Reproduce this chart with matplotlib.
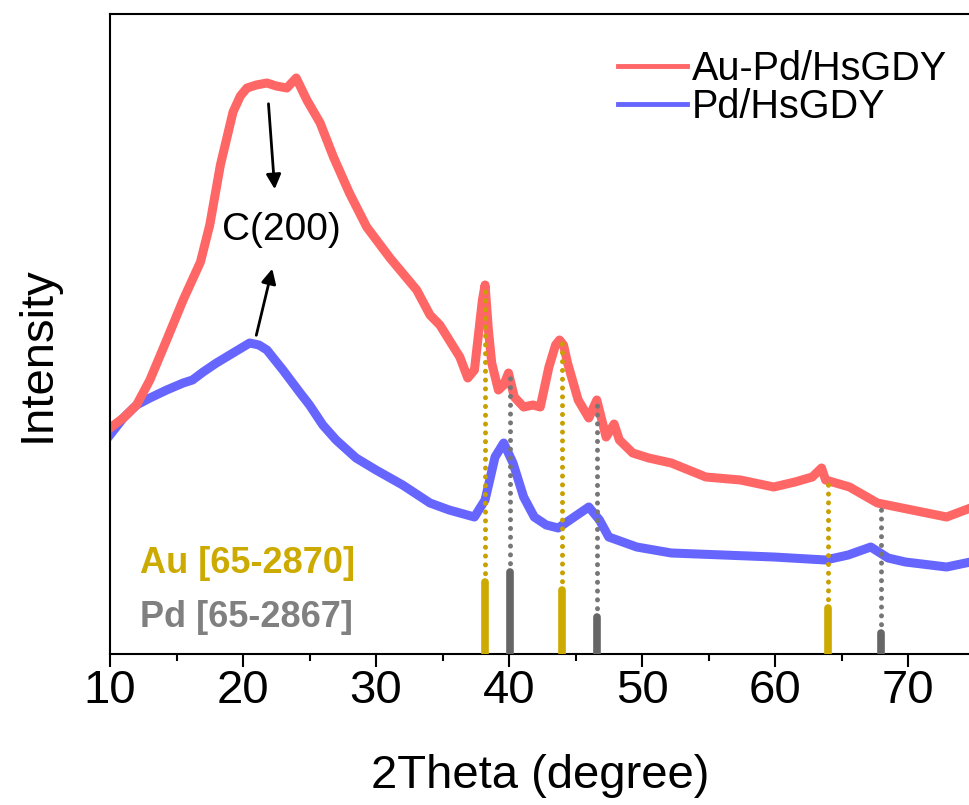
import numpy as np
import matplotlib
matplotlib.use("Agg")
import matplotlib.pyplot as plt
from matplotlib.ticker import MultipleLocator

plt.rcParams['font.family'] = ['Liberation Sans', 'DejaVu Sans']

# XRD patterns (2theta in degrees, intensity in arbitrary units)
aupd_x = [10.0, 11.0, 12.0, 13.0, 14.26, 15.5, 16.8, 17.5, 18.3, 19.25, 19.8, 20.3, 21.0,
          21.8, 22.5, 23.3, 24.0, 24.8, 25.8, 26.8, 28.0, 29.3, 31.05, 33.06, 34.06,
          34.8, 36.3, 36.9, 37.4, 37.7, 38.0, 38.2, 38.45, 38.7, 39.2, 39.6, 39.96,
          40.4, 41.1, 41.8, 42.35, 43.0, 43.5, 43.8, 44.1, 44.4, 45.2, 46.0, 46.6,
          47.3, 47.9, 48.3, 49.3, 50.5, 52.2, 54.8, 57.4, 59.9, 61.5, 62.8, 63.5, 63.8,
          65.6, 67.7, 70.3, 72.9, 74.7]
aupd_y = [226, 236, 249, 274, 314, 354, 392, 429, 489, 542, 558, 566, 569,
          571, 568, 566, 576, 554, 531, 497, 461, 427, 396, 364, 339,
          329, 297, 276, 284, 319, 354, 369, 324, 291, 264, 269, 281,
          257, 247, 249, 247, 287, 309, 314, 309, 291, 254, 236, 254,
          217, 230, 214, 201, 196, 191, 177, 174, 167, 172, 177, 186, 174,
          167, 151, 144, 137, 146]

pd_x = [10.0, 11.0, 12.0, 13.0, 14.26, 15.5, 16.2, 17.0, 18.0, 19.25, 20.5, 21.2,
        21.8, 23.0, 24.3, 25.0, 26.0, 27.0, 28.5, 30.0, 32.0, 34.06, 35.5, 37.4,
        38.2, 38.95, 39.6, 40.3, 41.1, 41.9, 42.8, 43.7, 44.9, 46.0, 46.8, 47.5,
        49.6, 52.2, 56.1, 59.9, 63.8, 65.5, 67.2, 68.5, 69.8, 72.9, 74.7]
pd_y = [219, 236, 249, 256, 264, 271, 274, 282, 291, 301, 311, 309,
        304, 284, 261, 249, 229, 214, 196, 184, 169, 151, 144, 137,
        154, 197, 211, 191, 157, 137, 129, 126, 137, 147, 134, 117,
        107, 101, 99, 97, 94, 99, 107, 96, 92, 87, 92]

# standard reference lines
au_pos = [38.2, 44.0, 64.0]
au_int = [72, 64, 46]
au_drop = [369, 314, 174]
pdref_pos = [40.1, 46.6, 68.0]
pdref_int = [82, 37, 21]
pdref_drop = [279, 256, 147]

red = '#FF6666'
blue = '#6666FF'
gold = '#CCAA00'
grey = '#666666'

fig = plt.figure(figsize=(9.7, 8.05), dpi=100)
ax = fig.add_axes([110 / 970, 151 / 805, 860 / 970, 640 / 805])

ax.plot(pd_x, pd_y, color=blue, lw=6.5, solid_joinstyle='round', label='Pd/HsGDY', zorder=2)
ax.plot(aupd_x, aupd_y, color=red, lw=6.5, solid_joinstyle='round', label='Au-Pd/HsGDY', zorder=2)

dots = (0, (0.01, 1.75))
for x, h, top in zip(au_pos, au_int, au_drop):
    ax.plot([x, x], [h, top], color='#C8A000', lw=3.6, ls=dots, dash_capstyle='round', zorder=3)
    ax.plot([x, x], [0, h], color=gold, lw=5.5, solid_capstyle='round', zorder=4)
for x, h, top in zip(pdref_pos, pdref_int, pdref_drop):
    ax.plot([x, x], [h, top], color='#777777', lw=3.6, ls=dots, dash_capstyle='round', zorder=3)
    ax.plot([x, x], [0, h], color=grey, lw=5.5, solid_capstyle='round', zorder=4)

ax.text(12.25, 81, 'Au [65-2870]', color=gold, fontsize=26, fontweight='bold')
ax.text(12.25, 27, 'Pd [65-2867]', color='#808080', fontsize=26, fontweight='bold')

ax.annotate('', xy=(22.4, 462), xytext=(21.9, 553),
            arrowprops=dict(arrowstyle='-|>', color='black', lw=2, mutation_scale=22))
ax.annotate('', xy=(22.25, 388), xytext=(20.95, 316),
            arrowprops=dict(arrowstyle='-|>', color='black', lw=2, mutation_scale=22))
ax.text(22.9, 424, 'C(200)', fontsize=28, ha='center', va='center')

ax.set_xlim(10, 74.66)
ax.set_ylim(0, 640)
ax.xaxis.set_major_locator(MultipleLocator(10))
ax.xaxis.set_minor_locator(MultipleLocator(5))
ax.tick_params(axis='x', which='major', length=9, width=1.5, labelsize=34, pad=2)
ax.tick_params(axis='x', which='minor', length=5, width=1.5)
ax.set_yticks([])
ax.spines['right'].set_visible(False)
for s in ['left', 'top', 'bottom']:
    ax.spines[s].set_linewidth(1.5)

ax.set_xlabel('2Theta (degree)', fontsize=34, labelpad=29)
ax.set_ylabel('Intensity', fontsize=34)
ax.yaxis.set_label_coords(-0.058, 0.469)

handles, labels = ax.get_legend_handles_labels()
leg = ax.legend(handles[::-1], labels[::-1], loc='upper left',
                bbox_to_anchor=(618 / 970, 1 - 50 / 805), bbox_transform=fig.transFigure,
                frameon=False, fontsize=28.5, handlelength=1.75, handletextpad=0.12,
                labelspacing=0.0, borderpad=0, borderaxespad=0)
for line in leg.get_lines():
    line.set_linewidth(3.5)

fig.savefig('out.png', dpi=100)
